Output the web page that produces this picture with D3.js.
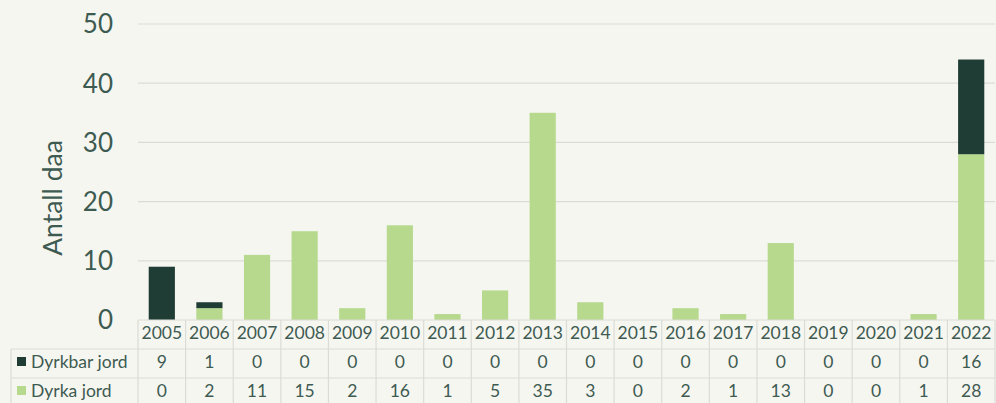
<!DOCTYPE html>
<html>
<head>
<meta charset="utf-8">
<script src="https://cdn.jsdelivr.net/npm/d3@7"></script>
<style>
  html, body { margin: 0; padding: 0; background: #f6f6f1; }
  svg { display: block; font-family: Lato, "Open Sans", sans-serif; }
</style>
</head>
<body>
<svg id="chart" width="996" height="403"></svg>
<script>
const years = ["2005","2006","2007","2008","2009","2010","2011","2012","2013","2014","2015","2016","2017","2018","2019","2020","2021","2022"];
const dyrkbarJord = [9,1,0,0,0,0,0,0,0,0,0,0,0,0,0,0,0,16];
const dyrkaJord   = [0,2,11,15,2,16,1,5,35,3,0,2,1,13,0,0,1,28];
const yTicks = [0,10,20,30,40,50];
const seriesNames = ["Dyrkbar jord","Dyrka jord"];
const seriesColors = ["#1f3d34","#b6d98e"];

(function () {
const svg = d3.select("#chart");
const W = 996, H = 403;
const plotLeft = 138, plotRight = 995, plotTop = 24, zeroY = 320;
const textColor = "#3e5b51";
const gridColor = "#dcdcd6";
const tableFont = 17.5;

const x = d3.scaleBand().domain(years).range([plotLeft, plotRight]).paddingInner(0.45).paddingOuter(0.225);
const xCol = d3.scaleBand().domain(years).range([plotLeft, plotRight]);
const y = d3.scaleLinear().domain([0, 50]).range([zeroY, plotTop]);

// horizontal gridlines
svg.append("g").selectAll("line").data(yTicks.filter(t => t > 0)).join("line")
  .attr("x1", plotLeft).attr("x2", plotRight)
  .attr("y1", d => y(d)).attr("y2", d => y(d))
  .attr("stroke", gridColor).attr("stroke-width", 1.2);

// y tick labels
svg.append("g").selectAll("text").data(yTicks).join("text")
  .attr("x", 113).attr("y", d => y(d))
  .attr("dy", "0.36em").attr("text-anchor", "end")
  .attr("font-size", 26).attr("fill", textColor)
  .text(d => d);

// y axis title
svg.append("text")
  .attr("transform", `translate(52,${(plotTop + zeroY) / 2 + 26}) rotate(-90)`)
  .attr("text-anchor", "middle").attr("dy", "0.36em")
  .attr("font-size", 26.5).attr("fill", textColor)
  .text("Antall daa");

// stacked bars
const rows = years.map((yr, i) => ({ year: yr, "Dyrka jord": dyrkaJord[i], "Dyrkbar jord": dyrkbarJord[i] }));
const stack = d3.stack().keys(["Dyrka jord", "Dyrkbar jord"])(rows);
svg.append("g").selectAll("g").data(stack).join("g")
  .attr("fill", d => seriesColors[seriesNames.indexOf(d.key)])
  .selectAll("rect").data(d => d).join("rect")
  .attr("x", d => x(d.data.year))
  .attr("width", x.bandwidth())
  .attr("y", d => y(d[1]))
  .attr("height", d => y(d[0]) - y(d[1]));

// data table
const rowH = 29;
const tableTop = zeroY;
const textShift = -2;
const tbl = svg.append("g");
const lineAttr = sel => sel.attr("stroke", gridColor).attr("stroke-width", 1.2);

// horizontal table lines
lineAttr(tbl.append("line").attr("x1", plotLeft).attr("x2", plotRight).attr("y1", tableTop).attr("y2", tableTop));
[1, 2, 3].forEach(r => {
  lineAttr(tbl.append("line").attr("x1", 11).attr("x2", plotRight)
    .attr("y1", tableTop + r * rowH).attr("y2", tableTop + r * rowH));
});
// vertical table lines
years.forEach(yr => {
  lineAttr(tbl.append("line").attr("x1", xCol(yr)).attr("x2", xCol(yr))
    .attr("y1", tableTop).attr("y2", H));
});
lineAttr(tbl.append("line").attr("x1", plotRight).attr("x2", plotRight).attr("y1", tableTop).attr("y2", H));
lineAttr(tbl.append("line").attr("x1", 11).attr("x2", 11).attr("y1", tableTop + rowH).attr("y2", H));

// year labels
tbl.append("g").selectAll("text").data(years).join("text")
  .attr("x", d => xCol(d) + xCol.bandwidth() / 2)
  .attr("y", tableTop + rowH / 2 + textShift).attr("dy", "0.36em")
  .attr("text-anchor", "middle").attr("font-size", tableFont).attr("fill", textColor)
  .text(d => d);

// value rows
[dyrkbarJord, dyrkaJord].forEach((vals, r) => {
  const cy = tableTop + (r + 1) * rowH + rowH / 2 + textShift;
  const g = tbl.append("g");
  g.append("rect").attr("x", 17).attr("y", cy - 4.5).attr("width", 9).attr("height", 9)
    .attr("fill", seriesColors[r]);
  g.append("text").attr("x", 31).attr("y", cy).attr("dy", "0.36em")
    .attr("font-size", tableFont).attr("fill", textColor).text(seriesNames[r]);
  g.selectAll("text.v").data(vals).join("text").attr("class", "v")
    .attr("x", (d, i) => xCol(years[i]) + xCol.bandwidth() / 2)
    .attr("y", cy).attr("dy", "0.36em")
    .attr("text-anchor", "middle").attr("font-size", tableFont).attr("fill", textColor)
    .text(d => d);
});
})();
</script>
</body>
</html>
